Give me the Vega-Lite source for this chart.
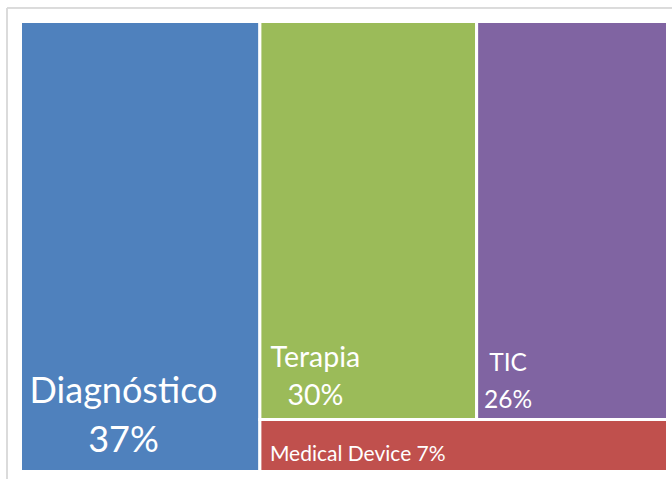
{
  "$schema": "https://vega.github.io/schema/vega-lite/v6.json",
  "width": 647,
  "height": 450,
  "autosize": {"type": "none"},
  "padding": {"left": 20.5, "top": 21.5, "right": 4.5, "bottom": 7.5},
  "background": "white",
  "config": {"view": {"stroke": null}},
  "data": {
    "values": [
      {"category": "Diagnóstico", "pct": 37, "label": "Diagnóstico\n37%", "x0": 0, "x1": 0.37, "y0": 0, "y1": 1},
      {"category": "Terapia", "pct": 30, "label": "Terapia\n30%", "x0": 0.37, "x1": 0.705, "y0": 0.1156, "y1": 1},
      {"category": "TIC", "pct": 26, "label": "TIC\n26%", "x0": 0.705, "x1": 1, "y0": 0.1156, "y1": 1},
      {"category": "Medical Device", "pct": 7, "label": "Medical Device 7%", "x0": 0.37, "x1": 1, "y0": 0, "y1": 0.1156}
    ]
  },
  "layer": [
    {
      "mark": {"type": "rect", "stroke": "white", "strokeWidth": 3},
      "encoding": {
        "x": {"field": "x0", "type": "quantitative", "scale": {"domain": [0, 1], "nice": false, "zero": false}, "axis": null},
        "x2": {"field": "x1"},
        "y": {"field": "y0", "type": "quantitative", "scale": {"domain": [0, 1], "nice": false, "zero": false}, "axis": null},
        "y2": {"field": "y1"},
        "color": {
          "field": "category",
          "type": "nominal",
          "scale": {"domain": ["Diagnóstico", "Terapia", "TIC", "Medical Device"], "range": ["#4F81BD", "#9BBB59", "#8064A2", "#C0504D"]},
          "legend": null
        }
      }
    },
    {
      "transform": [{"filter": "datum.category === 'Diagnóstico'"}],
      "mark": {"type": "text", "font": "Lato", "fontSize": 36, "fill": "white", "align": "center", "baseline": "alphabetic", "lineBreak": "\n", "lineHeight": 49, "dx": 103, "dy": -68.5},
      "encoding": {
        "x": {"field": "x0", "type": "quantitative"},
        "y": {"field": "y0", "type": "quantitative"},
        "text": {"field": "label"}
      }
    },
    {
      "transform": [{"filter": "datum.category === 'Terapia'"}],
      "mark": {"type": "text", "font": "Lato", "fontSize": 28.5, "fill": "white", "align": "center", "baseline": "alphabetic", "lineBreak": "\n", "lineHeight": 38, "dx": 55.5, "dy": -52.5},
      "encoding": {
        "x": {"field": "x0", "type": "quantitative"},
        "y": {"field": "y0", "type": "quantitative"},
        "text": {"field": "label"}
      }
    },
    {
      "transform": [{"filter": "datum.category === 'TIC'"}],
      "mark": {"type": "text", "font": "Lato", "fontSize": 24.5, "fill": "white", "align": "center", "baseline": "alphabetic", "lineBreak": "\n", "lineHeight": 37, "dx": 31.5, "dy": -48.5},
      "encoding": {
        "x": {"field": "x0", "type": "quantitative"},
        "y": {"field": "y0", "type": "quantitative"},
        "text": {"field": "label"}
      }
    },
    {
      "transform": [{"filter": "datum.category === 'Medical Device'"}],
      "mark": {"type": "text", "font": "Lato", "fontSize": 21, "fill": "white", "align": "left", "baseline": "alphabetic", "dx": 10, "dy": -10.5},
      "encoding": {
        "x": {"field": "x0", "type": "quantitative"},
        "y": {"field": "y0", "type": "quantitative"},
        "text": {"field": "label"}
      }
    },
    {
      "mark": {"type": "rect", "fill": "transparent", "stroke": "#D9D9D9", "strokeWidth": 1},
      "encoding": {
        "x": {"datum": -0.0209},
        "x2": {"datum": 1.3},
        "y": {"datum": 1.03},
        "y2": {"datum": -0.3}
      }
    }
  ]
}
